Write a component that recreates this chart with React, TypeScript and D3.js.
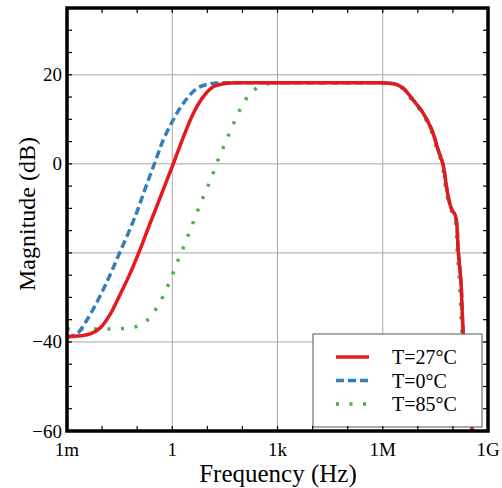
import React from "react";
import * as d3 from "d3";

// ---- Data (log10 of frequency in Hz, magnitude in dB) ----
const redLogF = [-3, -2.91, -2.6, -2.34, -2.06, -1.77, -1.49, -1.2, -0.95, -0.634, -0.35, -0.11, 0.03, 0.316, 0.6, 0.886, 1.17, 1.55, 2, 3, 4, 5, 5.8, 6.2, 6.4, 6.58, 6.86, 7.15, 7.4, 7.58, 7.72, 7.83, 7.92, 7.99, 8.06, 8.11, 8.15, 8.23, 8.29, 8.42, 8.55, 8.62];
const redDb = [-38.9, -38.8, -38.6, -38.2, -36.9, -33.8, -29.4, -24.6, -19.9, -13.4, -7.7, -2.8, 0, 6.0, 11.3, 15.1, 17.3, 18.1, 18.2, 18.2, 18.2, 18.2, 18.2, 18.1, 17.8, 17.0, 14.4, 11.4, 7.6, 3.1, -0.2, -5.8, -9.2, -10.6, -11.4, -13.5, -19.3, -26.7, -37.3, -48.5, -60, -66];

const blueLogF = [-3, -2.72, -2.49, -2.25, -1.97, -1.73, -1.49, -1.2, -0.97, -0.75, -0.49, -0.255, 0.03, 0.316, 0.697, 1.08, 1.5, 2, 3, 4, 5, 5.8, 6.2, 6.4, 6.58, 6.86, 7.15, 7.4, 7.58, 7.72, 7.83, 7.92, 7.99, 8.06, 8.11, 8.15, 8.23, 8.29, 8.42, 8.55, 8.62];
const blueDb = [-38.9, -38.2, -35.8, -32.6, -28.3, -24.2, -19.8, -14.6, -10, -5.1, 0.4, 5.4, 9.9, 13.6, 16.9, 18.0, 18.2, 18.2, 18.2, 18.2, 18.2, 18.2, 18.1, 17.8, 17.0, 14.4, 11.4, 7.6, 3.1, -0.2, -5.8, -9.2, -10.6, -11.4, -13.5, -19.3, -26.7, -37.3, -48.5, -60, -66];

const greenLogF = [-3, -2.6, -2.2, -1.8, -1.4, -1.01, -0.68, -0.44, -0.255, -0.09, 0.06, 0.2, 0.36, 0.5, 0.65, 0.79, 0.94, 1.1, 1.24, 1.39, 1.55, 1.7, 1.87, 2.05, 2.3, 2.64, 3.0, 3.5, 4, 5, 5.8, 6.18, 6.38, 6.55, 6.83, 7.12, 7.37, 7.55, 7.69, 7.8, 7.89, 7.96, 8.03, 8.08, 8.12, 8.19, 8.25, 8.38, 8.52, 8.6];
const greenDb = [-37.1, -37.1, -37.1, -37.1, -37.0, -36.5, -34.9, -32.3, -29.6, -26.7, -23.8, -21, -18, -15.1, -12.1, -9.2, -6.4, -3.5, -0.45, 2.5, 5.4, 8.2, 11.2, 13.9, 16.4, 17.8, 18.15, 18.2, 18.2, 18.2, 18.2, 18.1, 17.8, 17.0, 14.4, 11.4, 7.6, 3.1, -0.2, -5.8, -9.2, -10.6, -11.4, -13.5, -19.3, -26.7, -37.3, -48.5, -60, -66];

const seriesNames = ["T=27°C", "T=0°C", "T=85°C"];
const xTickExps = [-3, 0, 3, 6, 9];
const xTickLabels = ["1m", "1", "1k", "1M", "1G"];
const yTickValues = [20, 0, -40, -60];
const yTickLabels = ["20", "0", "\u221240", "\u221260"];
const yGridValues = [20, 0, -20, -40];
const xGridExps = [0, 3, 6];

const W = 502, H = 488;
const L = 67, R = 488, T = 8, B = 431;

export default function App() {
  const x = d3.scaleLog().domain([1e-3, 1e9]).range([L, R]);
  const y = d3.scaleLinear().domain([-60, 35]).range([B, T]);

  const mk = (lf: number[], db: number[]) =>
    lf.map((v, i) => [Math.pow(10, v), db[i]] as [number, number]);
  const line = d3
    .line<[number, number]>()
    .x((d) => x(d[0]))
    .y((d) => y(d[1]))
    .curve(d3.curveCatmullRom.alpha(0.5));

  const series = [
    { name: seriesNames[2], data: mk(greenLogF, greenDb), color: "#4daf4a", dash: "3,10.5", key: "g" },
    { name: seriesNames[1], data: mk(blueLogF, blueDb), color: "#377eb8", dash: "8,4", key: "b" },
    { name: seriesNames[0], data: mk(redLogF, redDb), color: "#e41a1c", dash: "", key: "r" },
  ];
  const legendItems = [series[2], series[1], series[0]];

  const decades = d3.range(-3, 10);
  const yMinor = d3.range(-60, 36, 5);
  const font = "Liberation Serif, Times New Roman, DejaVu Serif, serif";
  const ts = { fontFamily: font };

  return (
    <svg width={W} height={H} style={{ position: "absolute", left: 0, top: 0, background: "#fff", fontFamily: font }}>
      <defs>
        <clipPath id="plotClip">
          <rect x={L} y={T} width={R - L} height={B - T} />
        </clipPath>
      </defs>
      <rect x={0} y={0} width={W} height={H} fill="#fff" />
      {xGridExps.map((e) => (
        <line key={"xg" + e} x1={x(Math.pow(10, e))} x2={x(Math.pow(10, e))} y1={T} y2={B} stroke="#a6a6a6" strokeWidth={1} />
      ))}
      {yGridValues.map((v) => (
        <line key={"yg" + v} x1={L} x2={R} y1={y(v)} y2={y(v)} stroke="#a6a6a6" strokeWidth={1} />
      ))}
      <g clipPath="url(#plotClip)">
        {series.map((s) => (
          <path
            key={s.key}
            d={line(s.data) || ""}
            fill="none"
            stroke={s.color}
            strokeWidth={3.5}
            strokeDasharray={s.dash || undefined}
            strokeLinejoin="round"
          />
        ))}
      </g>
      <g>
        <rect x={313} y={334} width={169} height={93} fill="#fff" stroke="#555" strokeWidth={1} />
        {legendItems.map((s, i) => (
          <g key={"lg" + s.key}>
            <line x1={336} x2={369} y1={357 + i * 23.5} y2={357 + i * 23.5} stroke={s.color} strokeWidth={3.5} strokeDasharray={s.dash || undefined} />
            <text x={392} y={364 + i * 23.5} fontSize={20} fill="#000" style={ts}>{s.name}</text>
          </g>
        ))}
      </g>
      {decades.map((e) => (
        <g key={"xt" + e}>
          <line x1={x(Math.pow(10, e))} x2={x(Math.pow(10, e))} y1={B} y2={B - 5} stroke="#000" strokeWidth={1.2} />
          <line x1={x(Math.pow(10, e))} x2={x(Math.pow(10, e))} y1={T} y2={T + 5} stroke="#000" strokeWidth={1.2} />
        </g>
      ))}
      {yMinor.map((v) => (
        <g key={"yt" + v}>
          <line x1={L} x2={L + 5} y1={y(v)} y2={y(v)} stroke="#000" strokeWidth={1.2} />
          <line x1={R} x2={R - 5} y1={y(v)} y2={y(v)} stroke="#000" strokeWidth={1.2} />
        </g>
      ))}
      <rect x={L} y={T} width={R - L} height={B - T} fill="none" stroke="#000" strokeWidth={3.5} />
      {xTickExps.map((e, i) => (
        <text key={"xl" + e} x={x(Math.pow(10, e))} y={456} fontSize={19} textAnchor="middle" fill="#000" style={ts}>
          {xTickLabels[i]}
        </text>
      ))}
      {yTickValues.map((v, i) => (
        <text key={"yl" + v} x={62} y={y(v) + 6.5} fontSize={19} textAnchor="end" fill="#000" style={ts}>
          {yTickLabels[i]}
        </text>
      ))}
      <text x={278} y={482} fontSize={25} textAnchor="middle" fill="#000" style={ts}>Frequency (Hz)</text>
      <text transform="translate(35,214) rotate(-90)" fontSize={24} textAnchor="middle" fill="#000" style={ts}>Magnitude (dB)</text>
    </svg>
  );
}
